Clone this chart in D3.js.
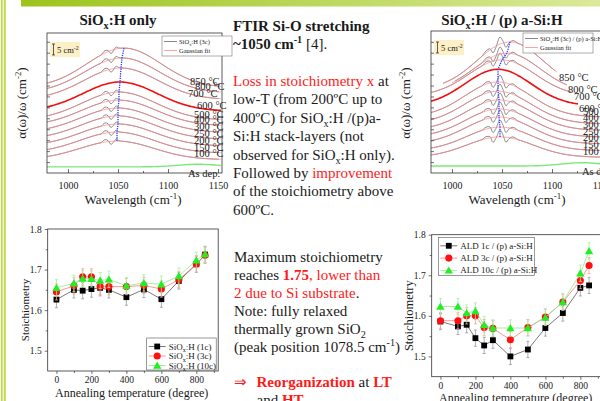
<!DOCTYPE html>
<html>
<head>
<meta charset="utf-8">
<script src="https://cdn.jsdelivr.net/npm/d3@7"></script>
<style>
  body { margin: 0; background: #fff; }
  svg { display: block; font-family: "Liberation Serif", "Times New Roman", serif; }
  text { white-space: pre; }
</style>
</head>
<body>
<svg id="slide" width="600" height="401"></svg>
<script>
// ---------- data ----------
const waveDomain = [979, 1154];
const specLabels = ["850 °C", "800 °C", "700 °C", "600 °C", "500 °C", "400 °C", "300 °C", "250 °C", "200 °C", "150 °C", "100 °C"];

// SiOx:H only - gaussian fit parameters (offset, height, peak position), units of cm-2
const fitBase1   = [39.0, 36.6, 33.6, 28.3, 24.2, 21.6, 18.5, 15.4, 12.3, 9.1, 6.1];
const fitAmp1    = [18.1, 16.0, 14.4, 13.3, 12.8, 11.7, 11.2, 10.7, 10.1, 9.6, 8.5];
const fitCenter1 = [1056, 1054, 1053, 1052, 1051, 1051, 1050, 1050, 1050, 1049, 1049];
const fitSigma1  = 37;
const asDep1     = [2.8, 1.2, 1130, 20];   // offset, height, position, width
// measured minus fit around the Si-O peak
const wigWave1 = [1033, 1037, 1040, 1043, 1046, 1048, 1051, 1054];
const wigVal1  = [0, 1.1, 0.5, -1.4, -0.2, 0.9, 0.2, 0];

// SiOx:H / (p) a-Si:H
const fitBase2   = [38.3, 36.8, 35.2, 30.7, 25.6, 22.5, 19.5, 16.4, 13.3, 10.2, 7.2];
const fitAmp2    = [21.6, 18.0, 16.5, 16.7, 16.0, 14.9, 13.9, 12.9, 12.3, 10.8, 9.3];
const fitCenter2 = [1058, 1055, 1050, 1046, 1046, 1046, 1047, 1047, 1047, 1048, 1048];
const fitStart2  = [990, 1000, 979, 979, 979, 979, 979, 979, 979, 979, 979];
const fitEnd2    = [1106, 1115, 1121, 1126, 1154, 1154, 1154, 1154, 1154, 1154, 1154];
const fitSigma2  = 33;
const asDep2     = [3.2, 1.5, 1130, 20];
const wigWave2 = [1030, 1034, 1038, 1041, 1044, 1048, 1051, 1054, 1057, 1061, 1066];
const wigVal2  = [0, 0.9, 0.5, -2.3, -0.5, 3.2, 0.9, -2.3, -0.5, 0.7, 0];

// stoichiometry vs annealing temperature
const annealT   = [0, 100, 150, 200, 250, 300, 400, 500, 600, 700, 800, 850];
const siox1c    = [1.626, 1.650, 1.648, 1.652, 1.655, 1.650, 1.632, 1.651, 1.627, 1.672, 1.713, 1.737];
const siox3c    = [1.645, 1.660, 1.682, 1.682, 1.658, 1.658, 1.658, 1.661, 1.652, 1.675, 1.714, 1.735];
const siox10c   = [1.655, 1.666, 1.678, 1.677, 1.673, 1.676, 1.660, 1.667, 1.664, 1.684, 1.723, 1.738];
const ald1c     = [1.586, 1.574, 1.578, 1.545, 1.527, 1.540, 1.500, 1.517, 1.570, 1.607, 1.669, 1.675];
const ald3c     = [1.588, 1.588, 1.600, 1.600, 1.571, 1.569, 1.541, 1.571, 1.597, 1.634, 1.687, 1.724];
const ald10c    = [1.623, 1.623, 1.607, 1.612, 1.578, 1.570, 1.570, 1.570, 1.596, 1.634, 1.705, 1.760];
const stoichErr = 0.02;
const stoichXTicks = [0, 200, 400, 600, 800];
const stoichYTicks = [1.5, 1.6, 1.7, 1.8];
const waveTicks = [1000, 1050, 1100, 1150];

const red = "#ff1a1a";
const svg = d3.select("#slide");
const defs = svg.append("defs");

// ---------- slide decoration ----------
const grad = defs.append("linearGradient").attr("id", "topbar");
grad.append("stop").attr("offset", "0%").attr("stop-color", "#9cc41c");
grad.append("stop").attr("offset", "100%").attr("stop-color", "#dbe99a");
svg.append("rect").attr("x", 21).attr("y", 0).attr("width", 579).attr("height", 6.5).attr("fill", "url(#topbar)");
svg.append("rect").attr("x", 0.8).attr("y", 0).attr("width", 5).attr("height", 401).attr("fill", "#c0d64a");
svg.append("rect").attr("x", 2.5).attr("y", 0).attr("width", 1.6).attr("height", 401).attr("fill", "#eef5c6");

// rich text helper: segs = [[text, "bold red sub sup"], ...]
function richText(parent, x, y, size, segs) {
  const t = parent.append("text").attr("x", x).attr("y", y)
    .style("font-size", size + "px").attr("fill", "#1a1a1a");
  let shift = 0;
  segs.forEach(([txt, st = ""]) => {
    const tok = st.split(" ");
    const s = t.append("tspan").text(txt);
    let target = 0;
    if (tok.includes("sub")) { target = size * 0.28; s.style("font-size", (size * 0.68) + "px"); }
    if (tok.includes("sup")) { target = -size * 0.4; s.style("font-size", (size * 0.68) + "px"); }
    if (target !== shift) { s.attr("dy", target - shift); shift = target; }
    if (tok.includes("bold")) s.style("font-weight", "bold");
    if (tok.includes("red")) s.attr("fill", red);
  });
  return t;
}

// ---------- FTIR spectra panels ----------
function drawSpectra(p) {
  const g = svg.append("g");
  const x = d3.scaleLinear().domain(waveDomain).range([p.left, p.left + 175]);
  const y = d3.scaleLinear().domain([0, 64]).range([173, 33]);

  const clipId = "clip-" + p.id;
  defs.append("clipPath").attr("id", clipId).append("rect")
    .attr("x", p.left).attr("y", p.top).attr("width", 175).attr("height", 173 - p.top);
  const plot = g.append("g").attr("clip-path", `url(#${clipId})`);

  const gauss = (w, c, s) => Math.exp(-((w - c) ** 2) / (2 * s * s));
  const fit = (i, w) => p.base[i] + p.amp[i] * gauss(w, p.center[i], p.sigma);
  const wig = w => { const k = p.wigWave.indexOf(w); return k < 0 ? 0 : p.wigVal[k]; };
  const line = d3.line().x(d => x(d[0])).y(d => y(d[1])).curve(d3.curveCatmullRom);

  const fitGrid = d3.range(waveDomain[0], waveDomain[1] + 0.1, 1.5);
  const lo = p.wigWave[0], hi = p.wigWave[p.wigWave.length - 1];
  const grayGrid = d3.range(waveDomain[0], waveDomain[1] + 0.1, 4)
    .filter(w => w < lo || w > hi).concat(p.wigWave).sort((a, b) => a - b);
  const startOf = i => p.start ? p.start[i] : waveDomain[0];
  const endOf = i => p.end ? p.end[i] : waveDomain[1];
  const inRange = (i, grid) => grid.filter(w => w >= startOf(i) && w <= endOf(i));

  // as deposited
  const ad = p.asDep;
  plot.append("path")
    .attr("d", line(fitGrid.map(w => [w, ad[0] + ad[1] * gauss(w, ad[2], ad[3])])))
    .attr("fill", "none").attr("stroke", "#7de87d").attr("stroke-width", 1.4);

  specLabels.forEach((lab, i) => {
    if (i === 3) return;
    plot.append("path")
      .attr("d", line(inRange(i, grayGrid).map(w => [w, fit(i, w) + wig(w)])))
      .attr("fill", "none").attr("stroke", "#6a6a6a").attr("stroke-width", 0.75);
  });
  specLabels.forEach((lab, i) => {
    if (i === 3) return;
    plot.append("path")
      .attr("d", line(inRange(i, fitGrid).map(w => [w, fit(i, w)])))
      .attr("fill", "none").attr("stroke", "#ff8c8c").attr("stroke-width", 0.75);
  });
  plot.append("path")
    .attr("d", line(inRange(3, fitGrid).map(w => [w, fit(3, w)])))
    .attr("fill", "none").attr("stroke", "#f01010").attr("stroke-width", 1.6);

  // peak position trace
  plot.append("path")
    .attr("d", d3.line().x(d => x(d[0])).y(d => y(d[1]))(specLabels.map((l, i) => [p.center[i], p.base[i] + p.amp[i]])))
    .attr("fill", "none").attr("stroke", "#2a3cff").attr("stroke-width", 1.3)
    .attr("stroke-dasharray", "1.3 1");

  // temperature labels
  specLabels.forEach((lab, i) => {
    let lx, ly;
    if (endOf(i) < waveDomain[1]) {
      lx = x(endOf(i)) + 1;
      ly = y(fit(i, endOf(i))) + 8;
    } else {
      lx = p.left + p.labelDx[i];
      ly = y(p.base[i]) - 2.5;
    }
    g.append("text").attr("x", lx).attr("y", ly).text(lab)
      .style("font-size", "10.5px").attr("fill", "#1a1a1a");
  });
  g.append("text").attr("x", p.left + p.asDepDx).attr("y", p.asDepY).text("As dep.")
    .style("font-size", "10.5px").attr("fill", "#1a1a1a");

  // frame and axes
  g.append("rect").attr("x", p.left).attr("y", p.top).attr("width", 175).attr("height", 173 - p.top)
    .attr("fill", "none").attr("stroke", "#333").attr("stroke-width", 0.8);
  const xa = g.append("g").attr("transform", "translate(0,173)")
    .call(d3.axisBottom(x).tickValues(waveTicks).tickSizeInner(-4).tickSizeOuter(0).tickPadding(9).tickFormat(d3.format("d")));
  g.append("g").attr("transform", "translate(0,173)")
    .call(d3.axisBottom(x).tickValues([1025, 1075, 1125]).tickSizeInner(-2).tickSizeOuter(0).tickFormat(""));
  g.append("g").attr("transform", `translate(${p.left},0)`)
    .call(d3.axisLeft(y).tickValues(d3.range(5, 64, 5)).tickSizeInner(-3).tickSizeOuter(0).tickFormat(""));
  g.selectAll(".domain").remove();
  g.selectAll(".tick line").attr("stroke", "#333").attr("stroke-width", 0.7);
  xa.attr("font-family", null).attr("font-size", null);
  xa.selectAll("text").style("font-size", "10px").attr("fill", "#1a1a1a");

  // scale bar
  const sb = p.scaleBar;
  g.append("rect").attr("x", sb[0]).attr("y", sb[1]).attr("width", 30).attr("height", 15).attr("fill", "#fdf0c6");
  const barTop = sb[1] + 2, barBot = barTop + (y(0) - y(5));
  g.append("line").attr("x1", sb[0] + 3.5).attr("x2", sb[0] + 3.5).attr("y1", barTop).attr("y2", barBot).attr("stroke", "#333").attr("stroke-width", 0.8);
  [barTop, barBot].forEach(v => g.append("line").attr("x1", sb[0] + 2).attr("x2", sb[0] + 5).attr("y1", v).attr("y2", v).attr("stroke", "#333").attr("stroke-width", 0.8));
  richText(g, sb[0] + 7, sb[1] + 11, 8.5, [["5 cm"], ["-2", "sup"]]);

  // legend
  const lg = p.legend;
  g.append("rect").attr("x", lg[0]).attr("y", lg[1]).attr("width", 70).attr("height", 20)
    .attr("fill", "#fff").attr("stroke", "#777").attr("stroke-width", 0.6);
  g.append("line").attr("x1", lg[0] + 2).attr("x2", lg[0] + 15).attr("y1", lg[1] + 5.5).attr("y2", lg[1] + 5.5).attr("stroke", "#6a6a6a").attr("stroke-width", 0.8);
  g.append("line").attr("x1", lg[0] + 2).attr("x2", lg[0] + 15).attr("y1", lg[1] + 14.5).attr("y2", lg[1] + 14.5).attr("stroke", "#ff8c8c").attr("stroke-width", 0.8);
  richText(g, lg[0] + 17, lg[1] + 8, 6.5, p.legendText);
  richText(g, lg[0] + 17, lg[1] + 17, 6.5, [["Gaussian fit"]]);

  // titles
  richText(g, p.left + 71, 25, 15, p.title).attr("text-anchor", "middle");
  richText(g, p.left + 86, 204, 13, [["Wavelength (cm"], ["-1", "sup"], [")"]]).attr("text-anchor", "middle");
  richText(g, 0, 0, 13, [["α(ω)/ω (cm"], ["-2", "sup"], [")"]])
    .attr("text-anchor", "middle").attr("transform", `translate(${p.left - 21},103) rotate(-90)`);
}

drawSpectra({
  id: "a", left: 47, top: 33,
  base: fitBase1, amp: fitAmp1, center: fitCenter1, sigma: fitSigma1,
  asDep: asDep1, wigWave: wigWave1, wigVal: wigVal1,
  labelDx: [143, 148, 141, 150, 147, 147, 147, 147, 147, 147, 147],
  asDepDx: 141, asDepY: 176.5,
  scaleBar: [50, 42], legend: [162, 36],
  legendText: [["SiO"], ["x", "sub"], [":H (3c)"]],
  title: [["SiO", "bold"], ["x", "bold sub"], [":H only", "bold"]]
});
drawSpectra({
  id: "b", left: 431, top: 31,
  base: fitBase2, amp: fitAmp2, center: fitCenter2, sigma: fitSigma2,
  start: fitStart2, end: fitEnd2,
  asDep: asDep2, wigWave: wigWave2, wigVal: wigVal2,
  labelDx: [152, 152, 152, 152, 152, 152, 152, 152, 152, 152, 152],
  asDepDx: 151, asDepY: 174.5,
  scaleBar: [434, 40], legend: [523, 33],
  legendText: [["SiO"], ["x", "sub"], [":H (3c) / (p) a-Si:H"]],
  title: [["SiO", "bold"], ["x", "bold sub"], [":H / (p) a-Si:H", "bold"]]
});

// ---------- stoichiometry panels ----------
function drawStoich(p) {
  const g = svg.append("g");
  const x = d3.scaleLinear().domain([-50, 925]).range([p.left, p.left + 170.5]);
  const y = d3.scaleLinear().domain([1.45, 1.8]).range([p.bottom, p.bottom - 142]);

  g.append("rect").attr("x", p.left).attr("y", p.bottom - 142).attr("width", 170.5).attr("height", 142)
    .attr("fill", "none").attr("stroke", "#333").attr("stroke-width", 0.8);

  const xa = g.append("g").attr("transform", `translate(0,${p.bottom})`)
    .call(d3.axisBottom(x).tickValues(stoichXTicks).tickSizeInner(3).tickSizeOuter(0).tickPadding(2.5));
  g.append("g").attr("transform", `translate(0,${p.bottom})`)
    .call(d3.axisBottom(x).tickValues([100, 300, 500, 700, 900]).tickSizeInner(2).tickSizeOuter(0).tickFormat(""));
  const ya = g.append("g").attr("transform", `translate(${p.left},0)`)
    .call(d3.axisLeft(y).tickValues(stoichYTicks).tickSizeInner(3).tickSizeOuter(0).tickPadding(3).tickFormat(d3.format(".1f")));
  g.append("g").attr("transform", `translate(${p.left},0)`)
    .call(d3.axisLeft(y).tickValues([1.55, 1.65, 1.75]).tickSizeInner(2).tickSizeOuter(0).tickFormat(""));
  g.selectAll(".domain").remove();
  g.selectAll(".tick line").attr("stroke", "#333").attr("stroke-width", 0.7);
  [xa, ya].forEach(a => {
    a.attr("font-family", null).attr("font-size", null);
    a.selectAll("text").style("font-size", "9.5px").attr("fill", "#1a1a1a");
  });

  const shapes = { sq: d3.symbolSquare, ci: d3.symbolCircle, tr: d3.symbolTriangle };
  const sizes = { sq: 34, ci: 40, tr: 30 };
  p.series.forEach(s => {
    const pts = annealT.map((t, i) => [t, s.vals[i]]);
    g.append("path").attr("d", d3.line().x(d => x(d[0])).y(d => y(d[1]))(pts))
      .attr("fill", "none").attr("stroke", s.line).attr("stroke-width", 0.8);
    pts.forEach(d => {
      const cx = x(d[0]), y1 = y(d[1] - stoichErr), y2 = y(d[1] + stoichErr);
      g.append("line").attr("x1", cx).attr("x2", cx).attr("y1", y1).attr("y2", y2).attr("stroke", s.err).attr("stroke-width", 0.8);
      [y1, y2].forEach(v => g.append("line").attr("x1", cx - 1.5).attr("x2", cx + 1.5).attr("y1", v).attr("y2", v).attr("stroke", s.err).attr("stroke-width", 0.8));
    });
    g.selectAll(null).data(pts).enter().append("path")
      .attr("transform", d => `translate(${x(d[0])},${y(d[1]) + (s.shape === "tr" ? 0.8 : 0)})`)
      .attr("d", d3.symbol().type(shapes[s.shape]).size(sizes[s.shape]))
      .attr("fill", s.color);
  });

  // legend
  const lg = p.legend;
  g.append("rect").attr("x", lg[0]).attr("y", lg[1]).attr("width", lg[2]).attr("height", lg[3])
    .attr("fill", "#fff").attr("stroke", "#555").attr("stroke-width", 0.6);
  p.series.forEach((s, i) => {
    const ry = lg[1] + lg[4] + i * lg[5];
    g.append("line").attr("x1", lg[0] + 2).attr("x2", lg[0] + 19).attr("y1", ry).attr("y2", ry)
      .attr("stroke", s.line).attr("stroke-width", 0.8);
    g.append("path").attr("transform", `translate(${lg[0] + 10.5},${ry + (s.shape === "tr" ? 0.8 : 0)})`)
      .attr("d", d3.symbol().type(shapes[s.shape]).size(sizes[s.shape])).attr("fill", s.color);
    richText(g, lg[0] + 22, ry + 3, p.legendSize, s.label);
  });

  richText(g, p.left + 84, p.bottom + 25.5, 12, [["Annealing temperature (degree)"]]).attr("text-anchor", "middle");
  richText(g, 0, 0, p.ySize, [["Stoichiometry"]])
    .attr("text-anchor", "middle").attr("transform", `translate(${p.left - 19},${p.bottom - 61}) rotate(-90)`);
}

const sx = t => [["SiO"], ["x", "sub"], [":H (" + t + ")"]];
drawStoich({
  left: 47.7, bottom: 371, ySize: 11, legendSize: 9,
  legend: [146.7, 338, 69.5, 32, 8.5, 9.5],
  series: [
    { vals: siox1c, color: "#000", line: "#555", err: "#999", shape: "sq", label: sx("1c") },
    { vals: siox3c, color: "#ff1010", line: "#ff7a7a", err: "#ff9e9e", shape: "ci", label: sx("3c") },
    { vals: siox10c, color: "#22ee22", line: "#8ee88e", err: "#9ef09e", shape: "tr", label: sx("10c") }
  ]
});
drawStoich({
  left: 431.7, bottom: 376.7, ySize: 12.5, legendSize: 9,
  legend: [438.3, 237.3, 96, 38, 8.5, 12.3],
  series: [
    { vals: ald1c, color: "#000", line: "#555", err: "#999", shape: "sq", label: [["ALD 1c / (p) a-Si:H"]] },
    { vals: ald3c, color: "#ff1010", line: "#ff7a7a", err: "#ff9e9e", shape: "ci", label: [["ALD 3c / (p) a-Si:H"]] },
    { vals: ald10c, color: "#22ee22", line: "#8ee88e", err: "#9ef09e", shape: "tr", label: [["ALD 10c / (p) a-Si:H"]] }
  ]
});

// ---------- middle column text ----------
const txt = svg.append("g");
richText(txt, 233, 31, 15, [["FTIR Si-O stretching", "bold"]]);
richText(txt, 233, 48.5, 15, [["~1050 cm", "bold"], ["-1", "bold sup"], [" [4]."]]);
const para1 = [
  [["Loss in stoichiometry x", "red"], [" at"]],
  [["low-T (from 200ºC up to"]],
  [["400ºC) for SiO"], ["x", "sub"], [":H /(p)a-"]],
  [["Si:H stack-layers (not"]],
  [["observed for SiO"], ["x", "sub"], [":H only)."]],
  [["Followed by "], ["improvement", "red"]],
  [["of the stoichiometry above"]],
  [["600ºC."]]
];
para1.forEach((segs, i) => richText(txt, 233, 86 + i * 18.4, 15, segs));
const para2 = [
  [["Maximum stoichiometry"]],
  [["reaches "], ["1.75", "bold red"], [", lower than", "red"]],
  [["2 due to Si substrate", "red"], ["."]],
  [["Note: fully relaxed"]],
  [["thermally grown SiO"], ["2", "sub"]],
  [["(peak position 1078.5 cm"], ["-1", "sup"], [")"]]
];
para2.forEach((segs, i) => richText(txt, 234, 262 + i * 18, 15, segs));
richText(txt, 234, 387, 15, [["⇒", "red"]]);
richText(txt, 256.5, 387, 15, [["Reorganization", "bold red"], [" at "], ["LT", "bold red"]]);
richText(txt, 256.5, 404.5, 15, [["and "], ["HT", "bold red"]]);
</script>
</body>
</html>
